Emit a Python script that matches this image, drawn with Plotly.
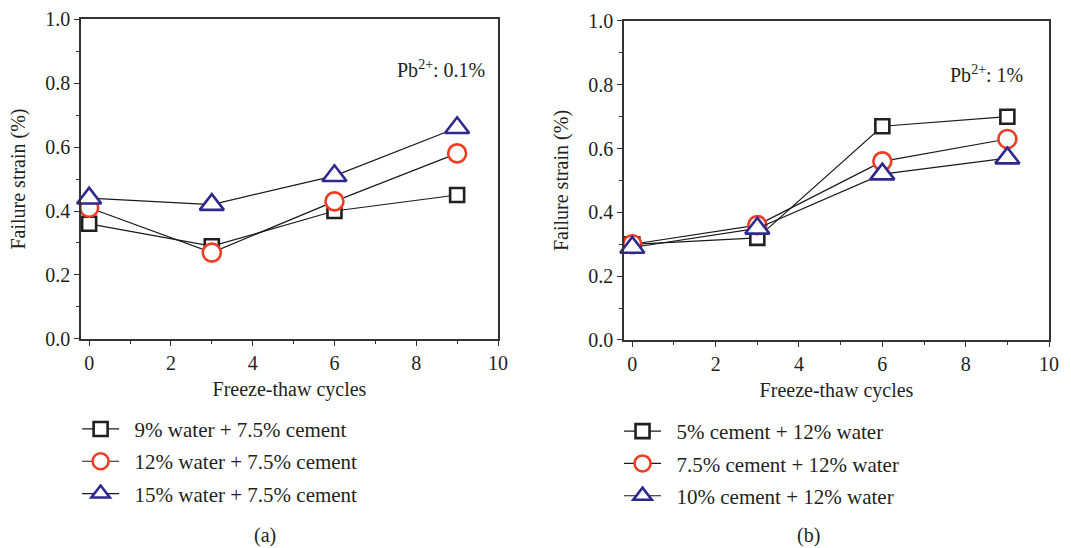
import plotly.graph_objects as go

# Freeze-thaw cycles
cycles = [0, 3, 6, 9]

# Panel (a): Pb2+ 0.1 %
names_a = ["9% water + 7.5% cement", "12% water + 7.5% cement", "15% water + 7.5% cement"]
strain_a_sq = [0.36, 0.29, 0.40, 0.45]
strain_a_ci = [0.41, 0.27, 0.43, 0.58]
strain_a_tr = [0.44, 0.42, 0.51, 0.66]

# Panel (b): Pb2+ 1 %
names_b = ["5% cement + 12% water", "7.5% cement + 12% water", "10% cement + 12% water"]
strain_b_sq = [0.30, 0.32, 0.67, 0.70]
strain_b_ci = [0.30, 0.36, 0.56, 0.63]
strain_b_tr = [0.29, 0.35, 0.52, 0.57]

x_ticks = [0, 2, 4, 6, 8, 10]
y_ticks = [0.0, 0.2, 0.4, 0.6, 0.8, 1.0]

FONT = "Liberation Serif"
TXT = "#231f20"
AX = "#333333"
FS = 20

styles = [
    dict(symbol="square", color="#231f20", size=14),
    dict(symbol="circle", color="#ee3d23", size=18),
    dict(symbol="triangle-up", color="#2e2a8d", size=21),
]

fig = go.Figure()

def add_series(xaxis, yaxis, legend, names, series):
    for name, ys, st in zip(names, series, styles):
        fig.add_trace(go.Scatter(
            x=cycles, y=ys, name="\u00a0\u00a0" + name, mode="lines+markers",
            xaxis=xaxis, yaxis=yaxis, legend=legend, legendgroup=legend + name,
            line=dict(color="#1a1a1a", width=1.2),
            marker=dict(symbol=st["symbol"], size=st["size"], color="white",
                        line=dict(color=st["color"], width=2.6)),
            cliponaxis=False,
        ))

add_series("x", "y", "legend", names_a, [strain_a_sq, strain_a_ci, strain_a_tr])
add_series("x2", "y2", "legend2", names_b, [strain_b_sq, strain_b_ci, strain_b_tr])

def xaxis_cfg(domain, anchor):
    return dict(
        domain=domain, anchor=anchor, range=[-0.2, 10], tickvals=x_ticks,
        automargin=False,
        showline=True, mirror=True, linecolor=AX, linewidth=1.5,
        ticks="outside", ticklen=5, tickwidth=1.3, tickcolor=AX,
        minor=dict(tickvals=[1, 3, 5, 7, 9], ticks="outside", ticklen=3,
                   tickwidth=1.3, tickcolor=AX),
        showgrid=False, zeroline=False,
        tickfont=dict(family=FONT, size=FS, color=TXT),
        title=dict(text="Freeze-thaw cycles", standoff=9,
                   font=dict(family=FONT, size=FS, color=TXT)),
    )

def yaxis_cfg(domain, anchor):
    return dict(
        domain=domain, anchor=anchor, range=[0, 1], tickvals=y_ticks,
        tickformat=".1f", automargin=False,
        showline=True, mirror=True, linecolor=AX, linewidth=1.5,
        ticks="outside", ticklen=5, tickwidth=1.3, tickcolor=AX,
        minor=dict(tickvals=[0.1, 0.3, 0.5, 0.7, 0.9], ticks="outside", ticklen=3,
                   tickwidth=1.3, tickcolor=AX),
        showgrid=False, zeroline=False,
        tickfont=dict(family=FONT, size=FS, color=TXT),
        title=dict(text="Failure strain (%)", standoff=14,
                   font=dict(family=FONT, size=FS, color=TXT)),
    )

legend_style = dict(
    font=dict(family=FONT, size=21, color=TXT),
    bgcolor="rgba(0,0,0,0)", borderwidth=0,
    xanchor="left", yanchor="top", tracegroupgap=2,
    itemwidth=37,
)

fig.update_layout(
    width=1071, height=548,
    margin=dict(l=0, r=0, t=0, b=0, autoexpand=False),
    paper_bgcolor="white", plot_bgcolor="white",
    showlegend=True,
    xaxis=xaxis_cfg([0.0756, 0.465], "y"),
    yaxis=yaxis_cfg([0.3814, 0.9653], "x"),
    xaxis2=xaxis_cfg([0.5826, 0.9795], "y2"),
    yaxis2=yaxis_cfg([0.3796, 0.9617], "x2"),
    legend=dict(x=0.072, y=0.254, **legend_style),
    legend2=dict(x=0.578, y=0.250, **legend_style),
    annotations=[
        dict(text="Pb<sup>2+</sup>: 0.1%", x=9.72, y=0.845, xref="x", yref="y",
             xanchor="right", yanchor="middle", showarrow=False,
             font=dict(family=FONT, size=FS, color=TXT)),
        dict(text="Pb<sup>2+</sup>: 1%", x=9.42, y=0.835, xref="x2", yref="y2",
             xanchor="right", yanchor="middle", showarrow=False,
             font=dict(family=FONT, size=FS, color=TXT)),
        dict(text="(a)", x=265 / 1071, y=1 - 535 / 548, xref="paper", yref="paper",
             xanchor="center", yanchor="middle", showarrow=False,
             font=dict(family=FONT, size=FS, color=TXT)),
        dict(text="(b)", x=808 / 1071, y=1 - 535 / 548, xref="paper", yref="paper",
             xanchor="center", yanchor="middle", showarrow=False,
             font=dict(family=FONT, size=FS, color=TXT)),
    ],
)

fig.write_html("out.html")
